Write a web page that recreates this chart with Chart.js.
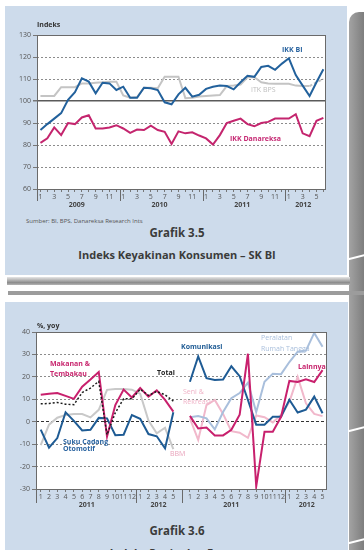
<!DOCTYPE html>
<html>
<head>
<meta charset="utf-8">
<script src="https://cdn.jsdelivr.net/npm/chart.js@4.4.0/dist/chart.umd.min.js"></script>
<style>
  body { margin: 0; width: 364px; height: 550px; overflow: hidden; background: #fff; position: relative; font-family: "Open Sans", sans-serif; }
  .panel { position: absolute; background: #cddbeb; }
  .deco { position: absolute; }
  .lbl { position: absolute; white-space: nowrap; line-height: 1; transform: translateY(-50%); font-size: 7px; }
  .b { font-weight: 700; }
  .ttl { position: absolute; left: 0; width: 354px; text-align: center; font-weight: 700; color: #3b3b3b; font-size: 11.5px; line-height: 1; transform: translateY(-50%); }
  .sub { font-size: 11px; }
  canvas { position: absolute; left: 0; }
</style>
</head>
<body>
<div class="deco" style="left:349px;top:12px;width:15px;height:538px;background:linear-gradient(to right,#a3a3a3,#7e7e7e);border-top-left-radius:10px;"></div>
<div class="deco" style="left:346px;top:256px;width:22px;height:2px;background:#fff;transform:rotate(-14deg);"></div>
<div class="deco" style="left:346px;top:428px;width:22px;height:2px;background:#fff;transform:rotate(-14deg);"></div>
<div class="deco" style="left:346px;top:540px;width:22px;height:2px;background:#fff;transform:rotate(-14deg);"></div>

<div class="panel" style="left:5px;top:6px;width:342px;height:269px;"></div>
<div class="deco" style="left:7px;top:277px;width:343px;height:8px;background:linear-gradient(#e6e6e6,#8c8c8c 70%,#b5b5b5);"></div>
<div class="deco" style="left:8px;top:291px;width:356px;height:4px;background:#9c9c9c;"></div>
<div class="panel" style="left:5px;top:302px;width:343px;height:248px;"></div>

<canvas id="chart1" width="364" height="215" style="top:0"></canvas>
<canvas id="chart2" width="364" height="215" style="top:300px"></canvas>

<div class="lbl b" style="left:37px;top:24px;color:#333;">Indeks</div>
<div class="lbl b" style="left:282px;top:49px;color:#2a64a0;">IKK BI</div>
<div class="lbl" style="left:251px;top:89px;color:#bdbdbd;">ITK BPS</div>
<div class="lbl b" style="left:230px;top:137.5px;color:#c62a74;">IKK Danareksa</div>
<div class="lbl" style="left:26px;top:221px;color:#555;font-size:6px;">Sumber: BI, BPS, Danareksa Research Ints</div>
<div class="ttl" style="top:233px;">Grafik 3.5</div>
<div class="ttl sub" style="top:254px;">Indeks Keyakinan Konsumen – SK BI</div>

<div class="lbl b" style="left:37px;top:325px;color:#333;">%, yoy</div>
<div class="lbl b" style="left:50px;top:362.7px;color:#c8266e;">Makanan &amp;</div>
<div class="lbl b" style="left:50px;top:373px;color:#c8266e;">Tembakau</div>
<div class="lbl b" style="left:157px;top:371.5px;color:#222;">Total</div>
<div class="lbl b" style="left:63px;top:441px;color:#2a64a0;">Suku Cadang</div>
<div class="lbl b" style="left:63px;top:448px;color:#2a64a0;">Otomotif</div>
<div class="lbl" style="left:170px;top:453px;color:#e9a3bb;">BBM</div>
<div class="lbl b" style="left:181px;top:346px;color:#1e5b94;">Komunikasi</div>
<div class="lbl" style="left:261px;top:337px;color:#a9bfdc;">Peralatan</div>
<div class="lbl" style="left:261px;top:347.5px;color:#a9bfdc;">Rumah Tangga</div>
<div class="lbl b" style="left:298px;top:366px;color:#c8266e;">Lainnya</div>
<div class="lbl" style="left:183px;top:390.7px;color:#f0b4c8;">Seni &amp;</div>
<div class="lbl" style="left:183px;top:401px;color:#f0b4c8;">Rekreasi</div>
<div class="ttl" style="top:531px;">Grafik 3.6</div>
<div class="ttl sub" style="top:552px;">Indeks Penjualan Eceran</div>

<script>
// ---- Grafik 3.5 data (Jan 2009 .. Jun 2012, 42 months) ----
const ikkBI = [86.8, 89.5, 92, 94.5, 100.5, 104, 110.3, 108.8, 103.5, 108.3, 108, 105,
  106.5, 101.5, 101.5, 106, 105.8, 105, 99.4, 98.5, 103, 106, 102, 102.8,
  105.5, 106.5, 107, 106.8, 105.3, 108.5, 111.5, 111, 115.5, 116, 114.2, 117,
  119.4, 111.8, 107, 102.3, 108.5, 114.4];
const itkBPS = [102.3, 102.3, 102.3, 106.3, 106.3, 106.3, 108, 108, 108.3, 108.5, 108.8, 108.8,
  102.5, 101.5, 101.8, 106, 106, 105.8, 111, 111, 111, 101.3, 101.5, 102,
  102.3, 102.5, 102.7, 106.8, 107, 107.5, 110.8, 110.8, 108.5, 108, 107.8, 107.8,
  107.8, 107, 106.8, 106.8, 108.5, 110];
const ikkDanareksa = [81, 83, 88, 84.5, 90, 89.5, 92.5, 93.5, 87.5, 87.5, 88, 89,
  87.5, 85.5, 87, 86.8, 88.8, 86.8, 86, 80.5, 86.2, 85.3, 85.8, 84.3,
  83, 80.2, 84.5, 90, 91, 92, 89.5, 88.5, 90, 90.5, 92, 92,
  92, 94, 85.3, 84, 91, 92.3];
const years1 = ['2009', '2010', '2011', '2012'];
const yearCenters1 = [6.25, 18.25, 30.25, 39.1];
const yearBounds1 = [0.5, 12.5, 24.5, 36.5];

// ---- Grafik 3.6 data (Jan 2011 .. May 2012, two panels) ----
const monthLabels2 = ['1', '2', '3', '4', '5', '6', '7', '8', '9', '10', '11', '12', '1', '2', '3', '4', '5'];
const makanan = [12, 12.5, 12.8, 11.5, 10.2, 15.6, 18.8, 22.2, -6.6, 7.4, 14.3, 10.8, 15, 11.2, 14, 9.7, 4.5];
const total = [8, 8.1, 8.6, 7.8, 7.6, 13, 15, 18, -5.8, 4, 10.2, 10.2, 14.5, 11.7, 13.5, 12, 9.2];
const sukuCadang = [-3.5, -11.6, -7.3, 4.2, 0.4, -3.9, -3.6, 1.7, 1.5, -6, -5.8, 3, 1.3, -5.5, -6.5, -11.9, 4.2];
const bbm = [-10.4, -1.3, 1.8, 3, 3.4, 3.4, 1.9, 5.3, 14.2, 14.6, 14.6, 14.3, 12.5, 0.5, -5.2, -2.7, -12.2];
const komunikasi = [17.8, 29.1, 19.4, 18.6, 18.8, 24.7, 20.3, 9.7, -1.3, -1.3, 2.2, 2.2, 9.8, 4.1, 5.4, 11.2, 3.8];
const peralatan = [2, 2.5, 1.5, -3.4, 4.3, 10.5, 12.8, 17.4, 4.3, 17.8, 21.4, 21.2, 26.6, 31.2, 31.7, 39.6, 33.4];
const lainnya = [2.6, -3, -2.6, -6.1, -6.1, -3.6, 3.1, 30.3, -28.8, -4.5, -4.5, 2.2, 18.2, 17.7, 18.9, 17.7, 23];
const seni = [1.5, -8.1, 7.4, 9.7, 3.5, -4.2, -4.9, -7.2, 2.8, 2, -0.3, 3.1, 8.9, 20, 8.2, 3.5, 2.5];
const years2 = ['2011', '2012', '2011', '2012'];
const yearCenters2 = [5.55, 14.2, 23.0, 32.1];
const yearBounds2 = [-0.57, 11.5, 17, 29.5];

const pts = (arr, start) => arr.map((v, i) => ({ x: start + i, y: v }));
const tickFont = { family: 'Open Sans', size: 7 };

const framePlugin = {
  id: 'frame',
  beforeDraw(chart) {
    const { ctx, chartArea: a } = chart;
    ctx.save();
    ctx.fillStyle = '#fff';
    ctx.fillRect(a.left, a.top, a.right - a.left, a.bottom - a.top);
    ctx.restore();
  },
  afterDraw(chart, args, opts) {
    const { ctx, chartArea: a, scales } = chart;
    ctx.save();
    ctx.strokeStyle = '#6a6a6a';
    ctx.lineWidth = 1;
    ctx.strokeRect(Math.round(a.left) + 0.5, Math.round(a.top) + 0.5, Math.round(a.right - a.left) - 1, Math.round(a.bottom - a.top));
    opts.bounds.forEach(b => {
      const x = Math.round(scales.x.getPixelForValue(b)) + 0.5;
      ctx.beginPath();
      ctx.moveTo(x, a.bottom);
      ctx.lineTo(x, a.bottom + opts.len);
      ctx.stroke();
    });
    ctx.restore();
  }
};

function line(data, color, width, extra) {
  return Object.assign({ data, borderColor: color, borderWidth: width, pointRadius: 0, tension: 0, fill: false }, extra || {});
}

// ---- Chart 1 ----
new Chart(document.getElementById('chart1'), {
  type: 'line',
  data: {
    datasets: [
      line(pts(ikkBI, 1), '#22619c', 2),
      line(pts(ikkDanareksa, 1), '#c4256e', 2),
      line(pts(itkBPS, 1), '#c4c4c4', 2, {
        segment: { borderDash: c => c.p0.parsed.x >= 40 ? [3, 2] : undefined }
      })
    ]
  },
  options: {
    responsive: false, animation: false, events: [], devicePixelRatio: 1,
    layout: { padding: { left: 0, top: 35, right: 38, bottom: 0 } },
    plugins: { legend: { display: false }, tooltip: { enabled: false }, frame: { bounds: yearBounds1, len: 12 } },
    scales: {
      x: {
        type: 'linear', min: 0.5, max: 42.38, weight: 0,
        afterBuildTicks: s => { s.ticks = []; for (let m = 1; m <= 42; m++) s.ticks.push({ value: m }); },
        ticks: { autoSkip: false, maxRotation: 0, padding: 1, color: '#555', font: tickFont,
          callback: v => (v % 2 ? String((v - 1) % 12 + 1) : '') },
        grid: { drawOnChartArea: false, tickLength: 3, tickColor: '#777' },
        border: { display: false },
        afterFit: s => { s.height = 12; }
      },
      x2: {
        type: 'linear', position: 'bottom', min: 0.5, max: 42.38, weight: 1,
        afterBuildTicks: s => { s.ticks = yearCenters1.map(v => ({ value: v })); },
        ticks: { autoSkip: false, maxRotation: 0, padding: 0, color: '#444',
          font: { family: 'Open Sans', size: 7, weight: 'bold' },
          callback: (v, i) => years1[i] },
        grid: { display: false, drawTicks: false },
        border: { display: false },
        afterFit: s => { s.height = 14; }
      },
      y: {
        min: 60, max: 130,
        ticks: { stepSize: 10, padding: 2, color: '#555', font: tickFont },
        grid: {
          color: c => (c.tick && c.tick.value === 100 ? '#5a5a5a' : '#8c8c8c'),
          lineWidth: c => (c.tick && c.tick.value === 100 ? 1.5 : 1),
          tickLength: 4, tickColor: '#777', tickBorderDash: []
        },
        border: { display: false, dash: c => (c.tick && c.tick.value === 100 ? [] : [2, 2]) },
        afterFit: s => { s.width = 37; }
      }
    }
  },
  plugins: [framePlugin]
});

// ---- Chart 2 ----
new Chart(document.getElementById('chart2'), {
  type: 'line',
  data: {
    datasets: [
      line(pts(total, 0), '#1a1a1a', 1.5, { borderDash: [2, 2] }),
      line(pts(lainnya, 18), '#c8206d', 2),
      line(pts(makanan, 0), '#c8206d', 2),
      line(pts(komunikasi, 18), '#1e5b94', 2),
      line(pts(sukuCadang, 0), '#1e5b94', 2),
      line(pts(peralatan, 18), '#a9bfdc', 2),
      line(pts(seni, 18), '#f1b8cb', 2),
      line(pts(bbm, 0), '#c9c9c9', 2)
    ]
  },
  options: {
    responsive: false, animation: false, events: [], devicePixelRatio: 1,
    layout: { padding: { left: 0, top: 32, right: 37, bottom: 0 } },
    plugins: { legend: { display: false }, tooltip: { enabled: false }, frame: { bounds: yearBounds2, len: 14 } },
    scales: {
      x: {
        type: 'linear', min: -0.57, max: 34.54, weight: 0,
        afterBuildTicks: s => { s.ticks = []; for (let i = 0; i <= 34; i++) if (i !== 17) s.ticks.push({ value: i }); },
        ticks: { autoSkip: false, maxRotation: 0, padding: 1, color: '#555', font: tickFont,
          callback: v => monthLabels2[v < 17 ? v : v - 18] },
        grid: { drawOnChartArea: false, tickLength: 3, tickColor: '#777' },
        border: { display: false },
        afterFit: s => { s.height = 12; }
      },
      x2: {
        type: 'linear', position: 'bottom', min: -0.57, max: 34.54, weight: 1,
        afterBuildTicks: s => { s.ticks = yearCenters2.map(v => ({ value: v })); },
        ticks: { autoSkip: false, maxRotation: 0, padding: 0, color: '#444',
          font: { family: 'Open Sans', size: 7, weight: 'bold' },
          callback: (v, i) => years2[i] },
        grid: { display: false, drawTicks: false },
        border: { display: false },
        afterFit: s => { s.height = 14; }
      },
      y: {
        min: -30, max: 40,
        ticks: { stepSize: 10, padding: 2, color: '#555', font: tickFont },
        grid: {
          color: c => (c.tick && c.tick.value === 0 ? '#333' : '#8c8c8c'),
          tickLength: 4, tickColor: '#777', tickBorderDash: []
        },
        border: { display: false, dash: c => (c.tick && c.tick.value === 0 ? [3, 2] : [2, 2]) },
        afterFit: s => { s.width = 36; }
      }
    }
  },
  plugins: [framePlugin]
});
</script>
</body>
</html>
